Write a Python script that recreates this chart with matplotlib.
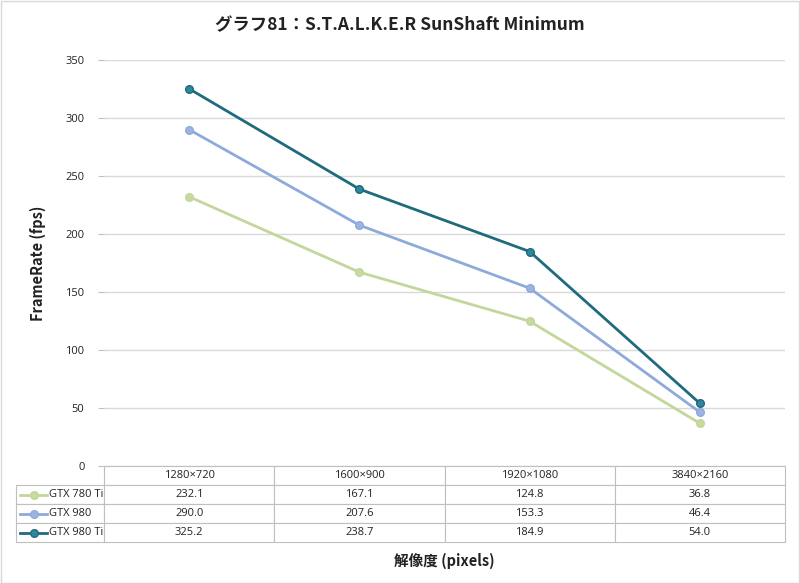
import matplotlib
matplotlib.use("Agg")
import matplotlib.pyplot as plt
from matplotlib.lines import Line2D
from matplotlib.patches import Rectangle

plt.rcParams['font.family'] = ['Noto Sans CJK JP', 'DejaVu Sans']

resolutions = ["1280×720", "1600×900", "1920×1080", "3840×2160"]
series_names = ["GTX 780 Ti", "GTX 980", "GTX 980 Ti"]
gtx780ti = [232.1, 167.1, 124.8, 36.8]
gtx980 = [290.0, 207.6, 153.3, 46.4]
gtx980ti = [325.2, 238.7, 184.9, 54.0]
line_colors = ["#C3D69B", "#8EAADB", "#1F6B7E"]
marker_colors = ["#C9DA9F", "#9BB5E0", "#31859C"]

series = [gtx780ti, gtx980, gtx980ti]
num_font = ["Open Sans", "DejaVu Sans"]

W, H = 800, 583
fig = plt.figure(figsize=(8, 5.83), dpi=100)
ax = fig.add_axes([104 / W, 1 - 466 / H, 681 / W, 406 / H])

x = list(range(len(resolutions)))
for vals, lc, mc in zip(series, line_colors, marker_colors):
    ax.plot(x, vals, color=lc, lw=2, marker="o", ms=5.5, mfc=mc, mec=lc, mew=1, zorder=3)

ax.set_xlim(-0.5, 3.5)
ax.set_ylim(0, 350)
ax.set_yticks(range(0, 351, 50))
ax.grid(axis="y", color="#D9D9D9", lw=1)
ax.set_axisbelow(True)
for s in ax.spines.values():
    s.set_visible(False)
ax.set_xticks([])
ax.tick_params(axis="y", length=4, color="#BFBFBF", labelsize=8, pad=10, labelcolor="#222222")
for t in ax.get_yticklabels():
    t.set_fontfamily(num_font)
ax.set_ylabel("FrameRate (fps)", fontsize=10.5, fontweight="bold", labelpad=14, color="#222222")

# data table under the plot
cell_text = [[""] + ["%.1f" % v for v in vals] for vals in series]
col_labels = [""] + resolutions
tbl = ax.table(cellText=cell_text, colLabels=col_labels,
               colWidths=[88, 170, 170, 170, 170], cellLoc="center",
               bbox=[-88 / 681, -76 / 406, 769 / 681, 76 / 406])
tbl.auto_set_font_size(False)
for (r, c), cell in tbl.get_celld().items():
    cell.set_edgecolor("#BFBFBF")
    cell.set_linewidth(0.8)
    cell.get_text().set_fontsize(8)
    cell.get_text().set_fontfamily(num_font)
    cell.get_text().set_color("#222222")
    if r == 0 and c == 0:
        cell.visible_edges = ""

# legend keys in first column
row_h = 19 / 406
for i, (name, lc, mc) in enumerate(zip(series_names, line_colors, marker_colors)):
    yc = -row_h * (i + 1.5)
    ax.add_line(Line2D([(20 - 104) / 681, (47 - 104) / 681], [yc, yc], transform=ax.transAxes,
                       color=lc, lw=2, clip_on=False))
    ax.add_line(Line2D([(33.5 - 104) / 681], [yc], transform=ax.transAxes, color=lc,
                       marker="o", ms=5.5, mfc=mc, mec=lc, clip_on=False))
    ax.text((49 - 104) / 681, yc, name, transform=ax.transAxes, ha="left", va="center",
            fontsize=8, family=num_font, color="#222222")

fig.text(0.5, 1 - 25 / H, "グラフ81：S.T.A.L.K.E.R SunShaft Minimum", ha="center", va="center",
         fontsize=12.5, fontweight="bold", color="#222222")
fig.text(444 / W, 1 - 561 / H, "解像度 (pixels)", ha="center", va="center",
         fontsize=10.5, fontweight="bold", color="#222222")

fig.patches.append(Rectangle((0.5 / W, 0.5 / H), 1 - 1.5 / W, 1 - 1.5 / H, transform=fig.transFigure,
                             fill=False, edgecolor="#D9D9D9", lw=1))

fig.savefig("out.png", dpi=100)
